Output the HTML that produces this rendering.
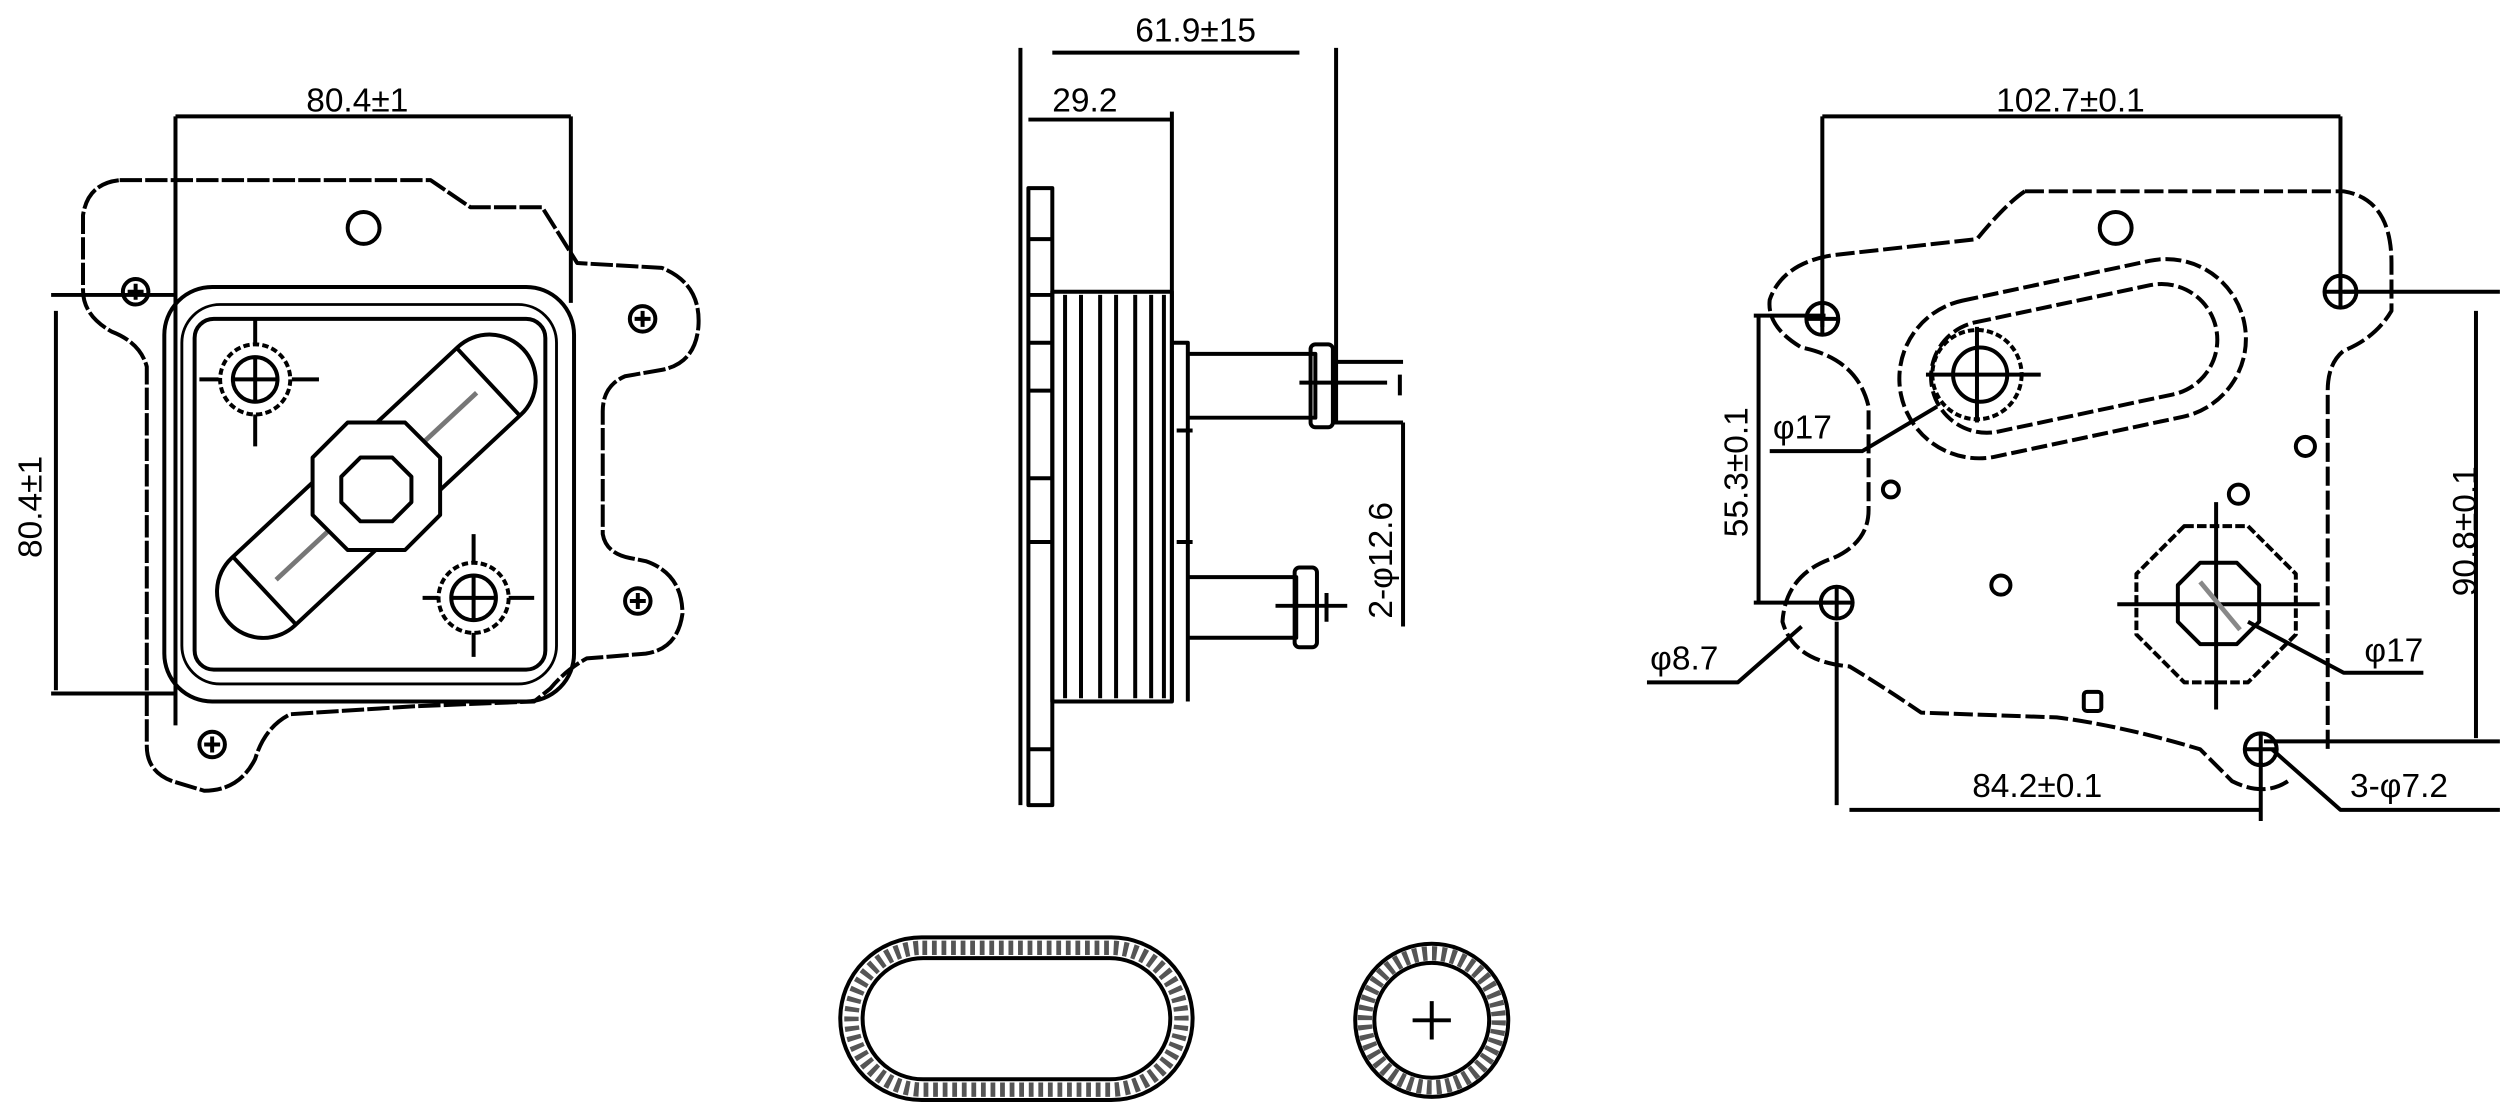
<!DOCTYPE html>
<html><head><meta charset="utf-8"><style>
html,body{margin:0;padding:0;background:#fff;}
svg{display:block;}
text{font-family:"Liberation Sans",sans-serif;fill:#000;font-size:21px;}
</style></head><body>
<svg width="2500" height="1108" viewBox="0 0 1568 695" xmlns="http://www.w3.org/2000/svg">
<rect width="1568" height="695" fill="#fff"/>
<g fill="none" stroke="#000" stroke-width="2.5" stroke-linejoin="round">

<!-- ===== LEFT VIEW ===== -->
<text x="192" y="70" stroke="none">80.4±1</text>
<path d="M110,73 L358,73 M110,73 L110,455 M358,73 L358,190"/>
<path d="M32,185 L110,185 M32,435 L110,435 M35,195 L35,433"/>
<text transform="translate(26,350) rotate(-90)" stroke="none">80.4±1</text>
<path d="M75,113 L270,113 L295,130 L340,130 L362,165 L415,168 Q440,178 438,205 Q436,228 415,232 L392,236 Q378,242 378,258 L378,335 Q380,347 395,350 L405,352 Q428,360 428,385 Q425,407 405,410 L368,413 Q355,420 345,432 L335,440 L260,443 L182,448 Q166,456 160,476 Q150,496 128,496 L108,490 Q92,484 92,468 L92,230 Q88,215 70,208 Q52,198 52,182 L52,135 Q55,115 75,113 Z" stroke-dasharray="14 2"/>
<rect x="103" y="180" width="257" height="260" rx="30"/>
<rect x="114" y="191" width="235" height="238" rx="24" stroke-width="1.8"/>
<rect x="122" y="200" width="220" height="220" rx="12"/>
<circle cx="160" cy="238" r="22" stroke-dasharray="4 2"/>
<circle cx="160" cy="238" r="14"/>
<path d="M147,238 L173,238 M160,225 L160,251 M160,200 L160,216 M160,260 L160,280 M125,238 L137,238 M183,238 L200,238"/>
<circle cx="297" cy="375" r="22" stroke-dasharray="4 2"/>
<circle cx="297" cy="375" r="14"/>
<path d="M284,375 L310,375 M297,362 L297,388 M297,335 L297,353 M297,397 L297,412 M265,375 L275,375 M319,375 L335,375"/>
<g transform="rotate(-43 236 305)">
<rect x="110" y="276" width="252" height="58" rx="29"/>
<path d="M140,276 L140,334 M332,276 L332,334"/>
<path d="M150,305 L322,305" stroke="#777" stroke-width="3"/>
</g>
<polygon points="218,265 254,265 276,287 276,323 254,345 218,345 196,323 196,287" fill="#fff"/>
<polygon points="226,287 246,287 258,299 258,315 246,327 226,327 214,315 214,299"/>
<circle cx="228" cy="143" r="10"/>
<circle cx="85" cy="183" r="8"/><path d="M85,178 L85,188 M80,183 L90,183"/>
<circle cx="403" cy="200" r="8"/><path d="M403,195 L403,205 M398,200 L408,200"/>
<circle cx="400" cy="377" r="8"/><path d="M400,372 L400,382 M395,377 L405,377"/>
<circle cx="133" cy="467" r="8"/><path d="M133,462 L133,472 M128,467 L138,467"/>

<!-- ===== MIDDLE VIEW ===== -->
<text x="712" y="26" stroke="none">61.9±15</text>
<text x="660" y="70" stroke="none">29.2</text>
<path d="M660,33 L815,33 M640,30 L640,505 M838,30 L838,265 M645,75 L735,75 M735,70 L735,440"/>
<rect x="645" y="118" width="15" height="387"/>
<path d="M645,150 L660,150 M645,185 L660,185 M645,215 L660,215 M645,245 L660,245 M645,300 L660,300 M645,340 L660,340 M645,470 L660,470"/>
<rect x="660" y="183" width="75" height="257"/>
<path d="M668,185 L668,438 M678,185 L678,438 M690,185 L690,438 M700,185 L700,438 M712,185 L712,438 M722,185 L722,438 M730,185 L730,438"/>
<path d="M735,215 L745,215 L745,440 M738,270 L748,270 M738,340 L748,340"/>
<path d="M745,222 L825,222 L825,262 L745,262"/>
<rect x="822" y="216" width="14" height="52" rx="3"/>
<path d="M836,227 L880,227 M836,265 L880,265 M880,265 L880,393 M815,240 L870,240 M878,235 L878,248"/>
<path d="M745,362 L813,362 L813,400 L745,400"/>
<rect x="812" y="356" width="14" height="50" rx="3"/>
<path d="M800,380 L845,380 M832,372 L832,390"/>
<text transform="translate(873,388) rotate(-90)" stroke="none">2-φ12.6</text>

<!-- ===== RIGHT VIEW ===== -->
<text x="1252" y="70" stroke="none">102.7±0.1</text>
<path d="M1143,73 L1468,73 M1143,73 L1143,205 M1468,73 L1468,185"/>
<path d="M1270,120 L1470,120 Q1500,125 1500,165 L1500,195 Q1490,212 1470,220 Q1460,228 1460,245 L1460,470 M1435,490 Q1420,500 1400,490 L1380,470 Q1330,455 1290,450 L1205,447 Q1180,430 1160,418 Q1125,415 1118,390 Q1120,360 1150,350 Q1172,340 1172,320 L1172,255 Q1165,225 1130,218 Q1108,205 1110,188 Q1118,165 1150,160 L1240,150 Q1258,128 1270,120" stroke-dasharray="12 3"/>
<g transform="rotate(-12 1300 225)">
<rect x="1190" y="175" width="220" height="100" rx="50" stroke-dasharray="10 3"/>
<rect x="1210" y="190" width="182" height="70" rx="35" stroke-dasharray="10 3"/>
</g>
<circle cx="1240" cy="235" r="28" stroke-dasharray="4 2"/>
<circle cx="1242" cy="235" r="17"/>
<path d="M1208,235 L1270,235 M1240,205 L1240,265 M1270,235 L1280,235"/>
<polygon points="1370,330 1410,330 1440,360 1440,398 1410,428 1370,428 1340,398 1340,360" stroke-dasharray="6 2"/>
<polygon points="1380,353 1403,353 1417,367 1417,390 1403,404 1380,404 1366,390 1366,367"/>
<path d="M1328,379 L1455,379 M1390,315 L1390,445"/>
<path d="M1380,365 L1405,395" stroke="#888" stroke-width="3"/>
<circle cx="1327" cy="143" r="10"/>
<circle cx="1186" cy="307" r="5"/>
<circle cx="1446" cy="280" r="6"/>
<circle cx="1404" cy="310" r="6"/>
<circle cx="1255" cy="367" r="6"/>
<rect x="1307" y="434" width="11" height="12" rx="2"/>
<circle cx="1143" cy="200" r="10"/><path d="M1143,190 L1143,210 M1133,200 L1153,200"/>
<circle cx="1468" cy="183" r="10"/><path d="M1468,173 L1468,193 M1458,183 L1478,183"/>
<circle cx="1152" cy="378" r="10"/><path d="M1152,368 L1152,388 M1142,378 L1162,378"/>
<circle cx="1418" cy="470" r="10"/><path d="M1418,460 L1418,480 M1408,470 L1428,470"/>
<path d="M1100,198 L1145,198 M1100,378 L1150,378 M1103,198 L1103,378"/>
<text transform="translate(1096,337) rotate(-90)" stroke="none">55.3±0.1</text>
<text x="1112" y="275" stroke="none">φ17</text>
<path d="M1110,283 L1168,283 L1215,255"/>
<text x="1035" y="420" stroke="none">φ8.7</text>
<path d="M1033,428 L1090,428 L1130,393"/>
<text x="1483" y="415" stroke="none">φ17</text>
<path d="M1520,422 L1470,422 L1410,390"/>
<path d="M1470,183 L1568,183 M1420,465 L1568,465 M1553,195 L1553,463"/>
<text transform="translate(1553,374) rotate(-90)" stroke="none">90.8±0.1</text>
<text x="1237" y="500" stroke="none">84.2±0.1</text>
<path d="M1160,508 L1418,508 M1152,390 L1152,505 M1418,478 L1418,515"/>
<text x="1474" y="500" stroke="none">3-φ7.2</text>
<path d="M1425,470 L1468,508 L1568,508"/>

<!-- ===== GASKETS ===== -->
<rect x="527" y="588" width="221" height="102" rx="51"/>
<rect x="541" y="601" width="193" height="76" rx="38"/>
<rect x="534" y="594.5" width="207" height="89" rx="44.5" stroke="#555" stroke-width="9" stroke-dasharray="3 3"/>
<circle cx="898" cy="640" r="48"/>
<circle cx="898" cy="640" r="36"/>
<circle cx="898" cy="640" r="42" stroke="#555" stroke-width="9" stroke-dasharray="3 3"/>
<path d="M886,640 L910,640 M898,628 L898,652"/>
</g>
</svg>
</body></html>
